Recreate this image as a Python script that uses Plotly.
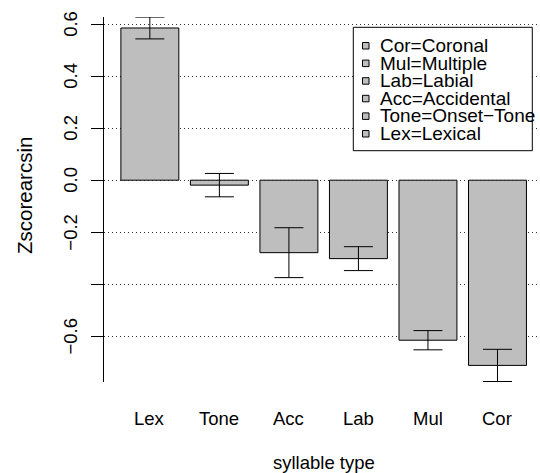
import plotly.graph_objects as go

# ---- data ----
categories = ["Lex", "Tone", "Acc", "Lab", "Mul", "Cor"]
means = [0.586, -0.019, -0.279, -0.302, -0.616, -0.713]
se = [0.042, 0.045, 0.096, 0.046, 0.037, 0.062]
y_ticks = [-0.6, -0.4, -0.2, 0.0, 0.2, 0.4, 0.6]
y_tick_labels = ["−0.6", "", "−0.2", "0.0", "0.2", "0.4", "0.6"]
legend_labels = ["Cor=Coronal", "Mul=Multiple", "Lab=Labial",
                 "Acc=Accidental", "Tone=Onset−Tone", "Lex=Lexical"]
x_title = "syllable type"
y_title = "Zscorearcsin"

# ---- layout geometry (pixels) ----
W, H = 540, 473
ML, MR, MT, MB = 104, 0, 17, 91
PW, PH = W - ML - MR, H - MT - MB
FONT = "Liberation Sans, Arial, Helvetica, sans-serif"
FS = 18.5
BAR_FILL = "#BEBEBE"

xpos = [0.7 + 1.2 * i for i in range(len(categories))]
px_per_unit = 57.94
x0 = 0.7 - (149.85 - ML) / px_per_unit
x_range = [x0, x0 + PW / px_per_unit]
ypx_per_unit = 259.75
y_top = (180.2 - MT) / ypx_per_unit
y_range = [y_top - PH / ypx_per_unit, y_top]


def fx(px):
    return (px - ML) / PW


def fy(py):
    return (H - MB - py) / PH


fig = go.Figure()
fig.add_trace(go.Bar(
    x=xpos, y=means, width=1.0,
    marker=dict(color=BAR_FILL, line=dict(color="black", width=1)),
    error_y=dict(type="data", array=se, visible=True, color="black",
                 thickness=1, width=14.5),
    showlegend=False, hoverinfo="skip",
))

annotations = []
# y tick labels (rotated)
for v, t in zip(y_ticks, y_tick_labels):
    if t:
        annotations.append(dict(
            x=0, xref="paper", y=v, yref="y", text=t, textangle=-90,
            showarrow=False, xanchor="center", yanchor="middle",
            xshift=70.5 - ML, font=dict(family=FONT, size=FS, color="black")))
# x category labels
for xv, c in zip(xpos, categories):
    annotations.append(dict(
        x=xv, xref="x", y=0, yref="paper", text=c, showarrow=False,
        xanchor="center", yanchor="middle", yshift=-(417 - (H - MB)) - 1,
        font=dict(family=FONT, size=FS, color="black")))
# axis titles
annotations.append(dict(
    x=fx(324), xref="paper", y=0, yref="paper", text=x_title,
    showarrow=False, xanchor="center", yanchor="middle",
    yshift=-(462.5 - (H - MB)),
    font=dict(family=FONT, size=FS, color="black")))
annotations.append(dict(
    x=0, xref="paper", y=fy(196), yref="paper", text=y_title, textangle=-90,
    showarrow=False, xanchor="center", yanchor="middle", xshift=24 - ML,
    font=dict(family=FONT, size=20.5, color="black")))

shapes = []
# legend box
shapes.append(dict(type="rect", xref="paper", yref="paper",
                   x0=fx(353.3), x1=fx(532.3), y0=fy(150.7), y1=fy(27.3),
                   line=dict(color="black", width=1), fillcolor="white",
                   layer="above"))
for i, lab in enumerate(legend_labels):
    cy = 45.5 + 17.6 * i
    shapes.append(dict(type="rect", xref="paper", yref="paper",
                       x0=fx(362.5), x1=fx(369), y0=fy(cy + 3.5), y1=fy(cy - 3),
                       line=dict(color="black", width=1), fillcolor=BAR_FILL,
                       layer="above"))
    annotations.append(dict(
        x=fx(378), xref="paper", y=fy(cy), yref="paper", text=lab,
        showarrow=False, xanchor="left", yanchor="middle",
        font=dict(family=FONT, size=19, color="black")))

fig.update_layout(
    width=W, height=H,
    margin=dict(l=ML, r=MR, t=MT, b=MB, pad=0),
    paper_bgcolor="white", plot_bgcolor="white",
    showlegend=False,
    xaxis=dict(range=x_range, showgrid=False, zeroline=False,
               showline=False, showticklabels=False, ticks=""),
    yaxis=dict(range=y_range, tickvals=y_ticks, showticklabels=False,
               showgrid=True, gridcolor="#333333", gridwidth=1,
               griddash="1px,3px", zeroline=False,
               showline=True, linecolor="black", linewidth=1,
               ticks="outside", ticklen=12, tickcolor="black", tickwidth=1),
    annotations=annotations,
    shapes=shapes,
    font=dict(family=FONT, size=FS, color="black"),
)

fig.write_html("out.html",
               config={"displayModeBar": False},
               post_script="document.body.style.margin='0px';"
                           "document.body.style.overflow='hidden';")
